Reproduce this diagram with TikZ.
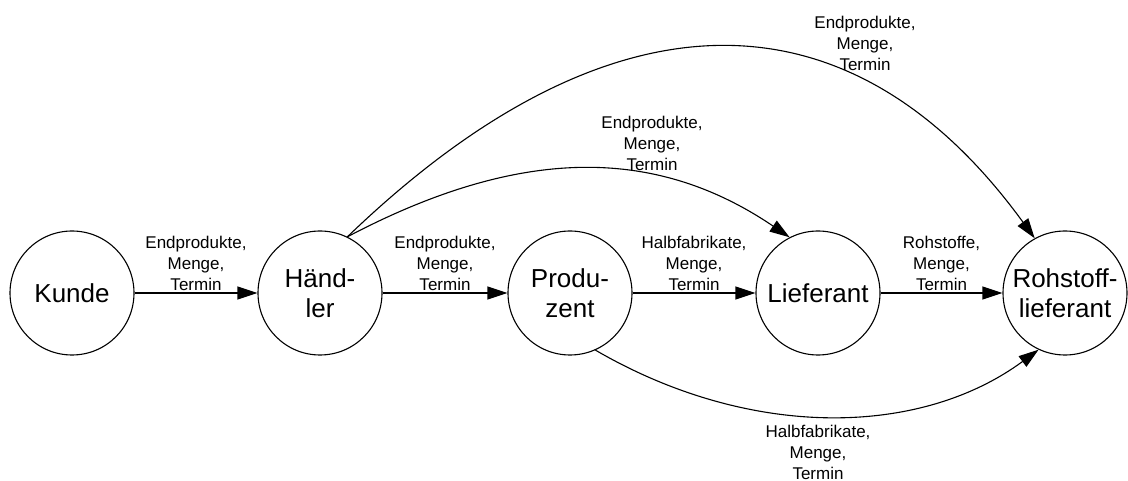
\documentclass[tikz,border=0pt]{standalone}
\usepackage{fontspec}
\setmainfont{Liberation Sans}
\usetikzlibrary{arrows.meta}
\begin{document}
\begin{tikzpicture}[x=1pt,y=-1pt,
  actor/.style={circle, draw, line width=1.1pt, minimum size=124pt, inner sep=0pt,
    align=center, font=\fontsize{26}{30}\selectfont},
  flow/.style={line width=1.1pt, -{Triangle[length=20pt,width=13pt]}},
  lbl/.style={align=center, font=\fontsize{17}{21}\selectfont, inner sep=0pt}]
\useasboundingbox (0,0) rectangle (1128,481);

% supply chain participants
\node[actor] (k) at (72,293)   {Kunde};
\node[actor] (h) at (320,293)  {Händ-\\ler};
\node[actor] (p) at (570,293)  {Produ-\\zent};
\node[actor] (l) at (818,293)  {Lieferant};
\node[actor] (r) at (1065,293) {Rohstoff-\\lieferant};

% orders passed along the chain
\draw[flow] (k) -- node[lbl, yshift=30pt] (lkh) {Endprodukte,\\Menge,\\Termin} (h);
\draw[flow] (h) -- node[lbl, yshift=30pt] (lhp) {Endprodukte,\\Menge,\\Termin} (p);
\draw[flow] (p) -- node[lbl, yshift=30pt] (lpl) {Halbfabrikate,\\Menge,\\Termin} (l);
\draw[flow] (l) -- node[lbl, yshift=30pt] (llr) {Rohstoffe,\\Menge,\\Termin} (r);

% orders skipping stages
\draw[flow] (h.64) .. controls (520,146) and (655,146) .. (l.117);
\node[lbl] (lhl) at (652,143) {Endprodukte,\\Menge,\\Termin};

\draw[flow] (h.64) .. controls (610,-16) and (850,-16) .. (r.119);
\node[lbl] (lhr) at (865,43) {Endprodukte,\\Menge,\\Termin};

\draw[flow] (p.-66) .. controls (750,440) and (920,437) .. (r.245);
\node[lbl] (lpr) at (818,452) {Halbfabrikate,\\Menge,\\Termin};
\end{tikzpicture}
\end{document}
